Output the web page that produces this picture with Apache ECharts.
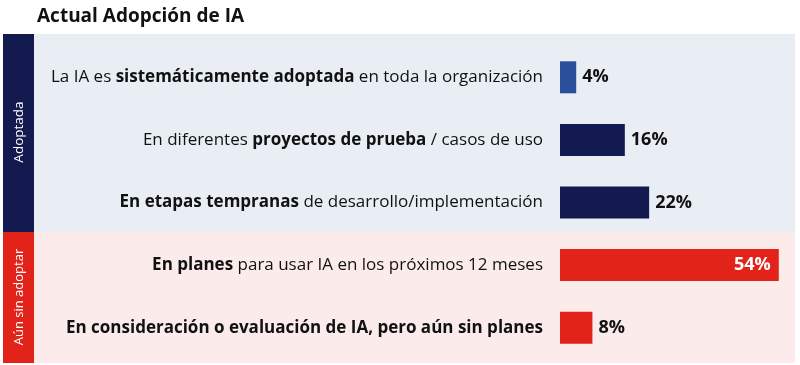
<!DOCTYPE html>
<html><head><meta charset="utf-8">
<script src="https://cdn.jsdelivr.net/npm/echarts@6/dist/echarts.min.js"></script>
<style>html,body{margin:0;padding:0;background:#fff}#c{width:800px;height:365px}</style>
</head><body><div id="c"></div>
<script>
const title = 'Actual Adopción de IA';
const categories = [
  'La IA es sistemáticamente adoptada en toda la organización',
  'En diferentes proyectos de prueba / casos de uso',
  'En etapas tempranas de desarrollo/implementación',
  'En planes para usar IA en los próximos 12 meses',
  'En consideración o evaluación de IA, pero aún sin planes'
];
const boldParts = [
  'sistemáticamente adoptada',
  'proyectos de prueba',
  'En etapas tempranas',
  'En planes',
  'En consideración o evaluación de IA, pero aún sin planes'
];
const values = [4, 16, 22, 54, 8];
const groupNames = ['Adoptada', 'Aún sin adoptar'];

const FONT = 'Open Sans';
const barColors = ['#2b4f9b', '#131a50', '#131a50', '#e2231a', '#e2231a'];

const chart = echarts.init(document.getElementById('c'));

function fmtLabel(val, idx) {
  const b = boldParts[idx];
  const i = val.indexOf(b);
  let s = '';
  if (i > 0) s += '{n|' + val.slice(0, i) + '}';
  s += '{b|' + b + '}';
  const rest = val.slice(i + b.length);
  if (rest) s += '{n|' + rest + '}';
  return s;
}

const data = values.map((v, i) => ({
  value: v,
  itemStyle: { color: barColors[i] },
  label: v > 40 ? { position: 'insideRight', color: '#fff', offset: [-2, 0] } : {}
}));

chart.setOption({
  animation: false,
  title: {
    text: title, left: 32, top: 2,
    textStyle: { fontFamily: FONT, fontSize: 19, fontWeight: 'bold', color: '#111' }
  },
  graphic: [
    { type: 'rect', shape: { x: 34, y: 34, width: 761, height: 198 }, style: { fill: '#e9eef5' }, silent: true, z: -10 },
    { type: 'rect', shape: { x: 34, y: 232, width: 761, height: 131 }, style: { fill: '#fbebeb' }, silent: true, z: -10 },
    { type: 'rect', shape: { x: 3, y: 34, width: 31, height: 198 }, style: { fill: '#131a50' }, silent: true, z: -10 },
    { type: 'rect', shape: { x: 3, y: 232, width: 31, height: 131 }, style: { fill: '#e2231a' }, silent: true, z: -10 },
    { type: 'text', x: 19, y: 132, rotation: Math.PI / 2, style: { text: groupNames[0], fill: '#fff', font: '13.5px "' + FONT + '"', align: 'center', verticalAlign: 'middle' }, silent: true },
    { type: 'text', x: 19, y: 297, rotation: Math.PI / 2, style: { text: groupNames[1], fill: '#fff', font: '13px "' + FONT + '"', align: 'center', verticalAlign: 'middle' }, silent: true }
  ],
  grid: { left: 560, top: 46, width: 235, height: 313, containLabel: false },
  xAxis: { type: 'value', min: 0, max: 58, show: false },
  yAxis: {
    type: 'category', data: categories, inverse: true,
    axisLine: { show: false }, axisTick: { show: false },
    axisLabel: {
      margin: 17,
      formatter: fmtLabel,
      rich: {
        n: { fontFamily: FONT, fontSize: 17, color: '#111', fontWeight: 'normal' },
        b: { fontFamily: FONT, fontSize: 17, color: '#111', fontWeight: 'bold' }
      }
    }
  },
  series: [{
    type: 'bar', data: data, barWidth: 32,
    label: {
      show: true, position: 'right', distance: 6, formatter: '{c}%',
      fontFamily: FONT, fontSize: 18, fontWeight: 'bold', color: '#111'
    }
  }]
});
</script></body></html>
